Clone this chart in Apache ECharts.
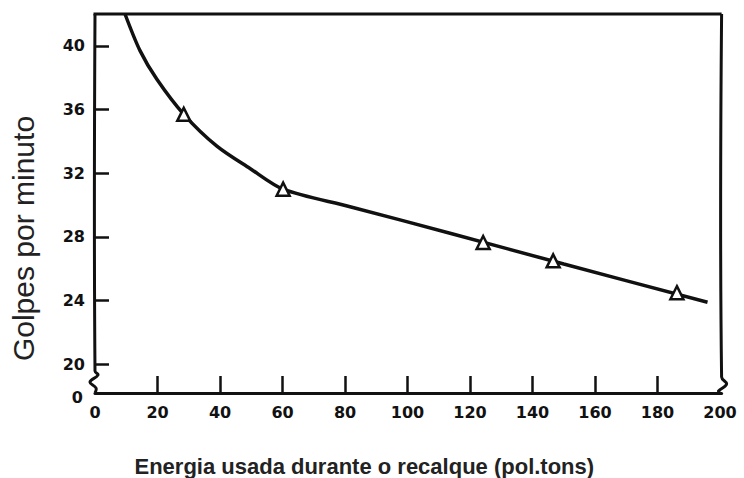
<!DOCTYPE html>
<html>
<head>
<meta charset="utf-8">
<script src="https://cdn.jsdelivr.net/npm/echarts@6/dist/echarts.min.js"></script>
<style>
  html, body { margin: 0; padding: 0; background: #fff; }
  #chart { width: 744px; height: 478px; }
</style>
</head>
<body>
<div id="chart"></div>
<script>
// Energy used during driving vs. blows per minute
const xTickValues = [0, 20, 40, 60, 80, 100, 120, 140, 160, 180, 200];
const xMinorTicks = [20, 40, 60, 80, 100, 120, 140, 160, 180];
const yTickValues = [20, 24, 28, 32, 36, 40];
const yBaseValue = 18.2;   // axis origin, drawn below the axis break
const yBaseLabel = '0';
const xMin = 0, xMax = 200.5, yMax = 42;

// fitted curve
const curveX = [9.6, 14.4, 19.8, 28.4, 39.0, 49.6, 60.2, 81.6, 114.2, 150.0, 196.0];
const curveY = [42.0, 39.7, 37.9, 35.7, 33.7, 32.3, 31.0, 29.9, 28.2, 26.3, 23.9];

// measured points (triangles)
const pointX = [28.4, 60.2, 124.2, 146.6, 186.2];
const pointY = [35.7, 31.0, 27.65, 26.5, 24.5];

const xTitle = 'Energia usada durante o recalque (pol.tons)';
const yTitle = 'Golpes por minuto';

const ink = '#111';
const chart = echarts.init(document.getElementById('chart'), null, { renderer: 'svg' });

const option = {
  backgroundColor: '#fff',
  animation: false,
  grid: { left: 95, right: 22.4, top: 14, bottom: 85, containLabel: false, outerBoundsMode: 'none' },
  xAxis: {
    type: 'value', min: xMin, max: xMax,
    splitLine: { show: false },
    axisLine: { show: true, lineStyle: { color: ink, width: 3 } },
    axisTick: { show: true, inside: true, length: 17, customValues: xMinorTicks, lineStyle: { color: ink, width: 2.5 } },
    axisLabel: {
      customValues: xTickValues, margin: 11,
      color: ink, fontFamily: 'DejaVu Sans', fontWeight: 'bold', fontSize: 16
    },
    name: xTitle, nameLocation: 'middle', nameGap: 62,
    nameTextStyle: { color: '#222', fontFamily: 'Liberation Sans', fontWeight: 'bold', fontSize: 22, padding: [0, 88, 0, 0] }
  },
  yAxis: {
    type: 'value', min: yBaseValue, max: yMax,
    splitLine: { show: false },
    axisLine: { show: false },
    axisTick: { show: true, inside: true, length: 14, customValues: yTickValues, lineStyle: { color: ink, width: 2.5 } },
    axisLabel: {
      customValues: [yBaseValue].concat(yTickValues), margin: 10,
      color: ink, fontFamily: 'DejaVu Sans', fontWeight: 'bold', fontSize: 16,
      formatter: v => (v === yBaseValue ? '{base|' + yBaseLabel + '}' : String(v)),
      rich: { base: { color: ink, fontFamily: 'DejaVu Sans', fontWeight: 'bold', fontSize: 16, padding: [8, 2, 0, 0] } }
    },
    name: yTitle, nameLocation: 'middle', nameGap: 57,
    nameTextStyle: { color: '#222', fontFamily: 'Liberation Sans', fontSize: 30, padding: [0, 70, 0, 0] }
  },
  series: [
    {
      type: 'line', data: curveX.map((x, i) => [x, curveY[i]]),
      smooth: 0.3, showSymbol: false, clip: true,
      lineStyle: { color: ink, width: 3.5 }, z: 2
    },
    {
      type: 'scatter', data: pointX.map((x, i) => [x, pointY[i]]),
      symbol: 'triangle', symbolSize: 13,
      itemStyle: { color: '#fff', borderColor: ink, borderWidth: 2.5, opacity: 1 }, z: 3
    }
  ]
};
chart.setOption(option);

// frame lines with the axis-break squiggles, placed from the axis scales
const px = (x, y) => chart.convertToPixel({ xAxisIndex: 0, yAxisIndex: 0 }, [x, y]);
const tl = px(xMin, yMax), bl = px(xMin, yBaseValue), tr = px(xMax, yMax), br = px(xMax, yBaseValue);
const frameStyle = { stroke: ink, lineWidth: 3, fill: null, lineJoin: 'round' };
chart.setOption({
  graphic: [
    { type: 'polyline', shape: { points: [[tl[0] - 1.5, tl[1]], [tr[0], tr[1]]] }, style: frameStyle, z: 10 },
    { type: 'polyline', shape: { smooth: 0.4, points: [
        [tl[0], tl[1]], [bl[0], bl[1] - 22], [bl[0] + 3, bl[1] - 18], [bl[0] - 5, bl[1] - 11],
        [bl[0] + 1, bl[1] - 5], [bl[0], bl[1]] ] }, style: frameStyle, z: 10 },
    { type: 'polyline', shape: { smooth: 0.4, points: [
        [tr[0], tr[1]], [br[0], br[1] - 16], [br[0] + 5, br[1] - 9], [br[0] - 3, br[1] - 2],
        [br[0] - 2, br[1]] ] }, style: frameStyle, z: 10 }
  ]
});
</script>
</body>
</html>
